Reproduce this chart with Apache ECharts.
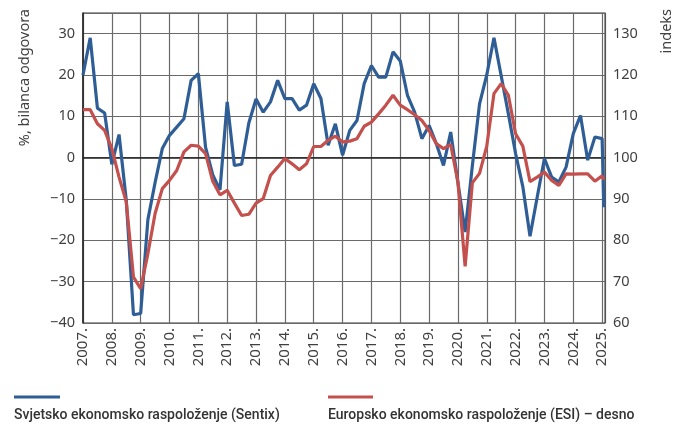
<!DOCTYPE html>
<html>
<head>
<meta charset="utf-8">
<script src="https://cdn.jsdelivr.net/npm/echarts@6/dist/echarts.min.js"></script>
<style>
  html, body { margin: 0; padding: 0; background: #fff; }
  #chart { width: 688px; height: 428px; }
</style>
</head>
<body>
<div id="chart"></div>
<script>
// Quarterly observations, 2007 Q1 ... 2025 Q1, followed by the latest (early 2025) observation
const startYear = 2007;
const latestObsYear = 2025.06;

const years = ['2007', '2008', '2009', '2010', '2011', '2012', '2013', '2014', '2015',
  '2016', '2017', '2018', '2019', '2020', '2021', '2022', '2023', '2024', '2025'];

// Svjetsko ekonomsko raspoloženje (Sentix), % bilanca odgovora (left axis)
const sentix = [
  20, 29, 12, 10.8,
  -1.6, 5.6, -10.3, -38,
  -37.7, -15, -6, 2.2,
  5.4, 7.4, 9.4, 18.7,
  20.3, 2.5, -4.2, -7.8,
  13.5, -1.9, -1.6, 8.4,
  14.2, 11, 13.5, 18.7,
  14.3, 14.3, 11.5, 12.7,
  17.9, 14.3, 3, 8.2,
  0.6, 6.6, 9, 17.9,
  22.3, 19.5, 19.5, 25.6,
  23.4, 15.1, 11, 4.6,
  7.8, 3.4, -1.9, 6.2,
  -6, -18, -2, 13,
  20, 29, 19.8, 10.6,
  1, -7, -19, -9.5,
  -0.2, -4.7, -5.9, -2.3,
  5.8, 10.2, -0.6, 5,
  4.6, -12
];

// Europsko ekonomsko raspoloženje (ESI), indeks (right axis)
const esi = [
  111.6, 111.6, 108.2, 106.6,
  102.2, 95.3, 89.3, 71.1,
  68.3, 76.8, 86.5, 92.5,
  94.5, 96.9, 101.4, 103,
  102.8, 101, 94.3, 91,
  92.1, 89, 86, 86.3,
  89, 90.1, 95.7, 97.7,
  99.8, 98.5, 97.1, 98.5,
  102.7, 102.7, 104.2, 105.2,
  103.8, 104, 104.6, 107.6,
  108.6, 110.6, 112.7, 115.1,
  112.7, 111.6, 110.4, 109,
  106.6, 103.4, 102.2, 103.2,
  94.1, 73.7, 93.9, 96.2,
  102.8, 115.5, 117.9, 115.1,
  105.8, 102.8, 94.2, 95.3,
  96.5, 94.5, 93.3, 96.1,
  96, 96.1, 96.1, 94.3,
  95.6, 94.7
];

const seriesNames = ['Svjetsko ekonomsko raspoloženje (Sentix)', 'Europsko ekonomsko raspoloženje (ESI) – desno'];
const leftAxisName = '%, bilanca odgovora';
const rightAxisName = 'indeks';

function timeOf(i, n) {
  return i < n - 1 ? startYear + i / 4 : latestObsYear;
}
const sentixData = sentix.map((v, i) => [timeOf(i, sentix.length), v]);
const esiData = esi.map((v, i) => [timeOf(i, esi.length), v]);

const BLUE = '#2f5e97';
const RED = '#c3504d';
const FONT = '"Noto Sans", "Open Sans", sans-serif';
const LABEL_COLOR = '#404040';
const GRID_COLOR = '#6a6a6a';

const chart = echarts.init(document.getElementById('chart'), null, { renderer: 'canvas' });
chart.setOption({
  animation: false,
  backgroundColor: '#ffffff',
  grid: {
    left: 83, right: 83, top: 13, bottom: 105,
    show: true, borderColor: '#333', borderWidth: 1, backgroundColor: 'transparent'
  },
  xAxis: {
    type: 'value',
    min: 2007, max: 2025.1, interval: 1,
    axisLine: { show: true, lineStyle: { color: '#222', width: 1.5 } },
    axisTick: { show: false },
    splitLine: { show: true, lineStyle: { color: GRID_COLOR, width: 1.2 } },
    axisLabel: {
      rotate: 90, margin: 5, fontSize: 15, color: LABEL_COLOR, fontFamily: FONT,
      showMaxLabel: false,
      formatter: v => (Number.isInteger(v) && years.indexOf(String(v)) >= 0) ? v + '.' : ''
    }
  },
  yAxis: [
    {
      type: 'value', min: -40, max: 35, interval: 10,
      position: 'left',
      axisLine: { show: true, lineStyle: { color: '#222', width: 1.5 } },
      axisTick: { show: false },
      splitLine: { show: true, lineStyle: { color: GRID_COLOR, width: 1.2 } },
      axisLabel: {
        margin: 8, fontSize: 14.5, color: LABEL_COLOR, fontFamily: FONT,
        showMaxLabel: false,
        formatter: v => v < 0 ? '\u2212' + Math.abs(v) : String(v)
      }
    },
    {
      type: 'value', min: 60, max: 135, interval: 10,
      position: 'right',
      axisLine: { show: true, lineStyle: { color: '#555', width: 1 } },
      axisTick: { show: false },
      splitLine: { show: false },
      axisLabel: {
        margin: 8, fontSize: 14.5, color: LABEL_COLOR, fontFamily: FONT,
        showMaxLabel: false
      }
    }
  ],
  series: [
    {
      name: seriesNames[0], type: 'line', yAxisIndex: 0,
      data: sentixData, showSymbol: false, symbol: 'none',
      lineStyle: { color: BLUE, width: 3.2 }, clip: false, z: 2
    },
    {
      name: seriesNames[1], type: 'line', yAxisIndex: 1,
      data: esiData, showSymbol: false, symbol: 'none',
      lineStyle: { color: RED, width: 3.2 }, clip: false, z: 3
    }
  ],
  graphic: [
    {
      type: 'text', x: 25, y: 9, rotation: Math.PI / 2,
      style: { text: leftAxisName, fill: LABEL_COLOR, font: '14.5px ' + FONT, align: 'right', verticalAlign: 'middle' }
    },
    {
      type: 'text', x: 667, y: 9, rotation: Math.PI / 2,
      style: { text: rightAxisName, fill: LABEL_COLOR, font: '14.5px ' + FONT, align: 'right', verticalAlign: 'middle' }
    },
    {
      type: 'line', shape: { x1: 14, y1: 397, x2: 60, y2: 397 },
      style: { stroke: BLUE, lineWidth: 3 }
    },
    {
      type: 'text', x: 14, y: 415,
      style: { text: seriesNames[0], fill: '#333', font: '500 14px Roboto, sans-serif', align: 'left', verticalAlign: 'middle' }
    },
    {
      type: 'line', shape: { x1: 328, y1: 397, x2: 373, y2: 397 },
      style: { stroke: RED, lineWidth: 3 }
    },
    {
      type: 'text', x: 328, y: 415,
      style: { text: seriesNames[1], fill: '#333', font: '500 14px Roboto, sans-serif', align: 'left', verticalAlign: 'middle' }
    }
  ]
});
</script>
</body>
</html>
